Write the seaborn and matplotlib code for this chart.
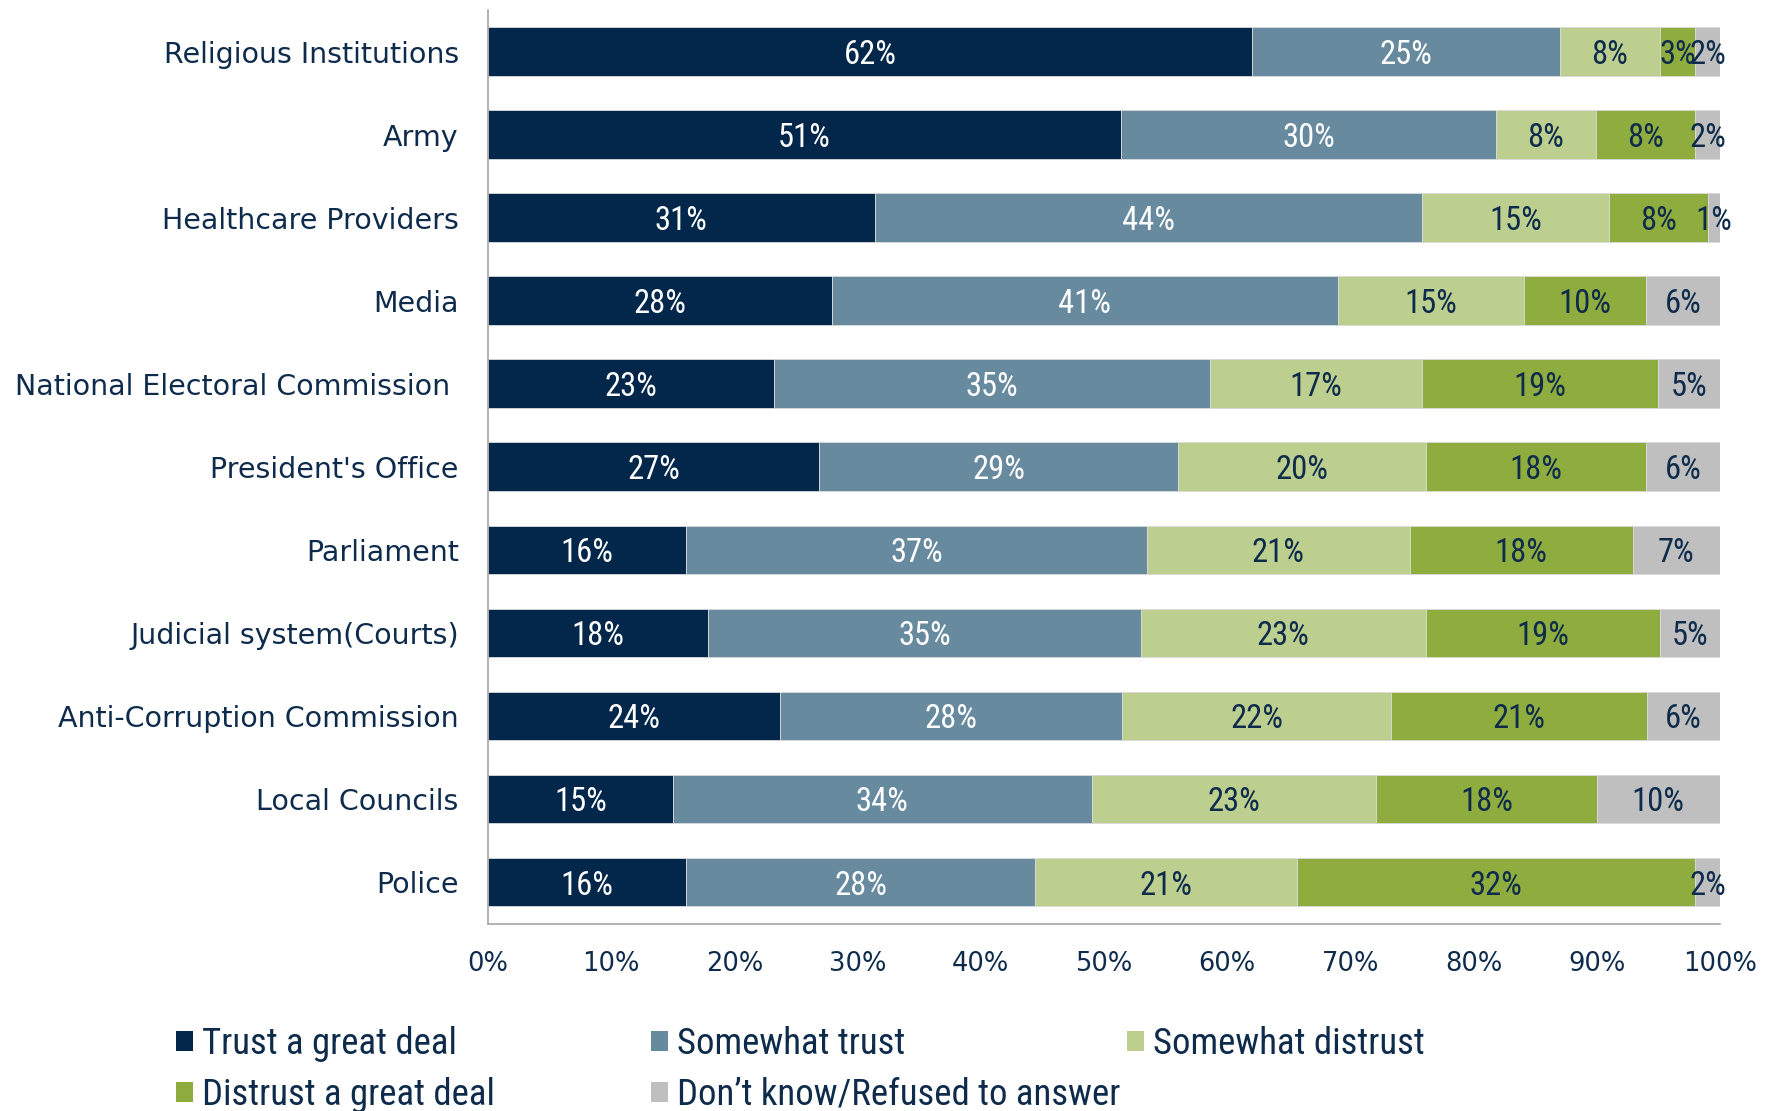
import numpy as np
import pandas as pd
import matplotlib
matplotlib.use("Agg")
import matplotlib.pyplot as plt
from matplotlib.patches import Patch
from matplotlib import font_manager
import seaborn as sns

# Data (percent of respondents)
institutions = ["Religious Institutions", "Army", "Healthcare Providers", "Media",
                "National Electoral Commission ", "President's Office", "Parliament",
                "Judicial system(Courts)", "Anti-Corruption Commission", "Local Councils",
                "Police"]
trust_great = [62.0, 51.4, 31.4, 27.9, 23.2, 26.9, 16.1, 17.9, 23.7, 15.0, 16.1]
somewhat_trust = [25.0, 30.4, 44.4, 41.1, 35.4, 29.1, 37.4, 35.1, 27.8, 34.0, 28.3]
somewhat_distrust = [8.1, 8.1, 15.2, 15.1, 17.2, 20.1, 21.3, 23.1, 21.8, 23.1, 21.3]
distrust_great = [2.9, 8.1, 8.0, 9.9, 19.2, 17.9, 18.1, 19.0, 20.8, 17.9, 32.3]
dont_know = [2.0, 2.0, 1.0, 6.0, 5.0, 6.0, 7.1, 4.9, 5.9, 10.0, 2.0]

legend_labels = ["Trust a great deal", "Somewhat trust", "Somewhat distrust",
                 "Distrust a great deal", "Don\u2019t know/Refused to answer"]
x_ticks = list(range(0, 101, 10))

navy = "#0E2B4C"
grey = "#A6A6A6"
colors = ["#02274A", "#678A9E", "#BCCF8F", "#8FAD3E", "#BFBFBF"]
label_colors = ["white", "white", navy, navy, navy]

sns.set_style("white")
plt.rcParams["font.family"] = ["DejaVu Sans"]

# pick a narrow font for the value labels / legend if one is installed
names = {f.name for f in font_manager.fontManager.ttflist}
narrow = "DejaVu Sans"
for cand in ["Liberation Sans Narrow", "Roboto Condensed", "Open Sans Condensed"]:
    if cand in names:
        narrow = cand
        break

fig = plt.figure(figsize=(17.75, 11.11), dpi=100)
ax = fig.add_axes([0.2749, 0.1687, 0.6941, 0.8223])

series = [trust_great, somewhat_trust, somewhat_distrust, distrust_great, dont_know]
left = np.zeros(len(institutions))
for vals, color, txt in zip(series, colors, label_colors):
    df = pd.DataFrame({"institution": institutions, "value": vals})
    sns.barplot(data=df, x="value", y="institution", order=institutions, orient="h",
                color=color, saturation=1, width=0.586, errorbar=None,
                left=left.copy(), edgecolor="#DADADA", linewidth=0.6, ax=ax)
    ax.bar_label(ax.containers[-1], labels=[f"{v:.0f}%" for v in vals],
                 label_type="center", color=txt, fontsize=23.5, family=narrow)
    left += np.array(vals)

# centre value labels on the digit height rather than the full text box
for t in ax.texts:
    t.set_va("center_baseline")

ax.set_xlabel("")
ax.set_ylabel("")
ax.set_xlim(0, 100)
ax.set_ylim(len(institutions) - 0.5, -0.5)
ax.set_xticks(x_ticks)
ax.set_xticklabels([f"{t}%" for t in x_ticks])
ax.set_yticks(np.arange(-0.5, len(institutions)), minor=True)

ax.tick_params(axis="y", which="major", length=0, pad=21, labelsize=20.5, labelcolor=navy)
ax.tick_params(axis="y", which="minor", length=6.5, width=1, color=grey, direction="out")
ax.tick_params(axis="x", length=7, width=1, color=grey, direction="out", pad=13,
               labelsize=18.5, labelcolor=navy)

for side in ["top", "right"]:
    ax.spines[side].set_visible(False)
for side in ["left", "bottom"]:
    ax.spines[side].set_color(grey)
    ax.spines[side].set_linewidth(1.2)

# legend laid out in three fixed-width columns
columns = [[0, 3], [1, 4], [2]]
col_x = [176, 651, 1127]
for xs, idxs in zip(col_x, columns):
    handles = [Patch(facecolor=colors[i], edgecolor="none") for i in idxs]
    fig.legend(handles, [legend_labels[i] for i in idxs], loc="upper left",
               bbox_to_anchor=(xs / 1775, 1 - 1026 / 1111), frameon=False,
               prop={"family": narrow, "size": 26.5}, labelcolor=navy,
               handlelength=0.45, handleheight=0.45, handletextpad=0.25,
               labelspacing=0.40, borderpad=0, borderaxespad=0)

fig.savefig("out.png", dpi=100, facecolor="white")
